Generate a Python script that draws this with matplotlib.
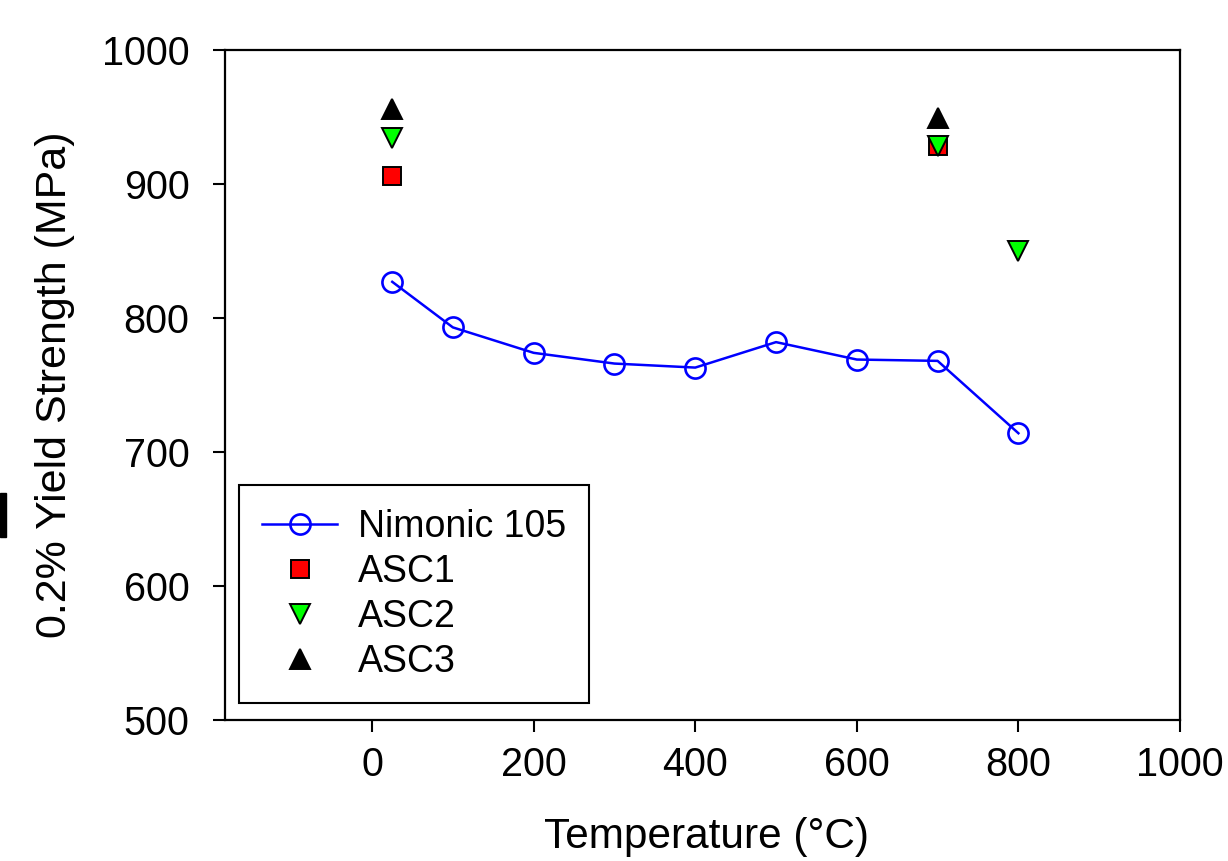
import matplotlib
matplotlib.use("Agg")
import matplotlib.pyplot as plt
from matplotlib.patches import Rectangle

plt.rcParams['font.family'] = ['Liberation Sans', 'DejaVu Sans']

# Data
nim_T = [25, 100, 200, 300, 400, 500, 600, 700, 800]
nim_Y = [827, 793, 774, 766, 763, 782, 769, 768, 714]
asc1_T = [25, 700]
asc1_Y = [906, 928]
asc2_T = [25, 700, 800]
asc2_Y = [934, 928, 850]
asc3_T = [25, 700]
asc3_Y = [956, 949]
xticks = [0, 200, 400, 600, 800, 1000]
yticks = [500, 600, 700, 800, 900, 1000]

fig = plt.figure(figsize=(12.28, 8.61), dpi=100)
ax = fig.add_axes([225/1228, 1-720/861, (1180-225)/1228, (720-50)/861])

ax.plot(nim_T, nim_Y, color='#0000ff', lw=1.8, marker='o', ms=14.5,
        mfc='none', mec='#0000ff', mew=1.9, label='Nimonic 105', zorder=3)
ax.plot(asc1_T, asc1_Y, ls='none', marker='s', ms=12.5, mfc='#ff0000',
        mec='black', mew=1.4, label='ASC1', zorder=4)
ax.plot(asc2_T, asc2_Y, ls='none', marker='v', ms=15, mfc='#00ff00',
        mec='black', mew=1.4, label='ASC2', zorder=5)
ax.plot(asc3_T, asc3_Y, ls='none', marker='^', ms=15, mfc='black',
        mec='black', mew=1.4, label='ASC3', zorder=5)

ax.set_xlim(-182, 1000)
ax.set_ylim(500, 1000)
ax.set_xticks(xticks)
ax.set_yticks(yticks)
ax.tick_params(direction='out', length=8.5, width=1.5, labelsize=28.5)
ax.tick_params(axis='x', pad=10)
ax.tick_params(axis='y', pad=17)
ax.tick_params(top=False, right=False)
for s in ax.spines.values():
    s.set_linewidth(1.6)

ax.set_xlabel('Temperature (°C)', fontsize=30.5)
ax.set_ylabel('0.2% Yield Strength (MPa)', fontsize=31)
ax.xaxis.set_label_coords(0.504, -0.145)
ax.yaxis.set_label_coords(-0.157, 0.5007)

leg = ax.legend(loc='lower left', bbox_to_anchor=(0.0147, 0.0254), borderaxespad=0,
                fontsize=27, frameon=True, fancybox=False, framealpha=1,
                edgecolor='black', handlelength=2.0, handletextpad=0.55,
                labelspacing=0.24, borderpad=0.62)
leg.get_frame().set_linewidth(1.5)

fig.patches.append(Rectangle((0, 1-537/861), 6/1228, 44/861, transform=fig.transFigure,
                             color='black', zorder=10))

fig.savefig('out.png', dpi=100)
